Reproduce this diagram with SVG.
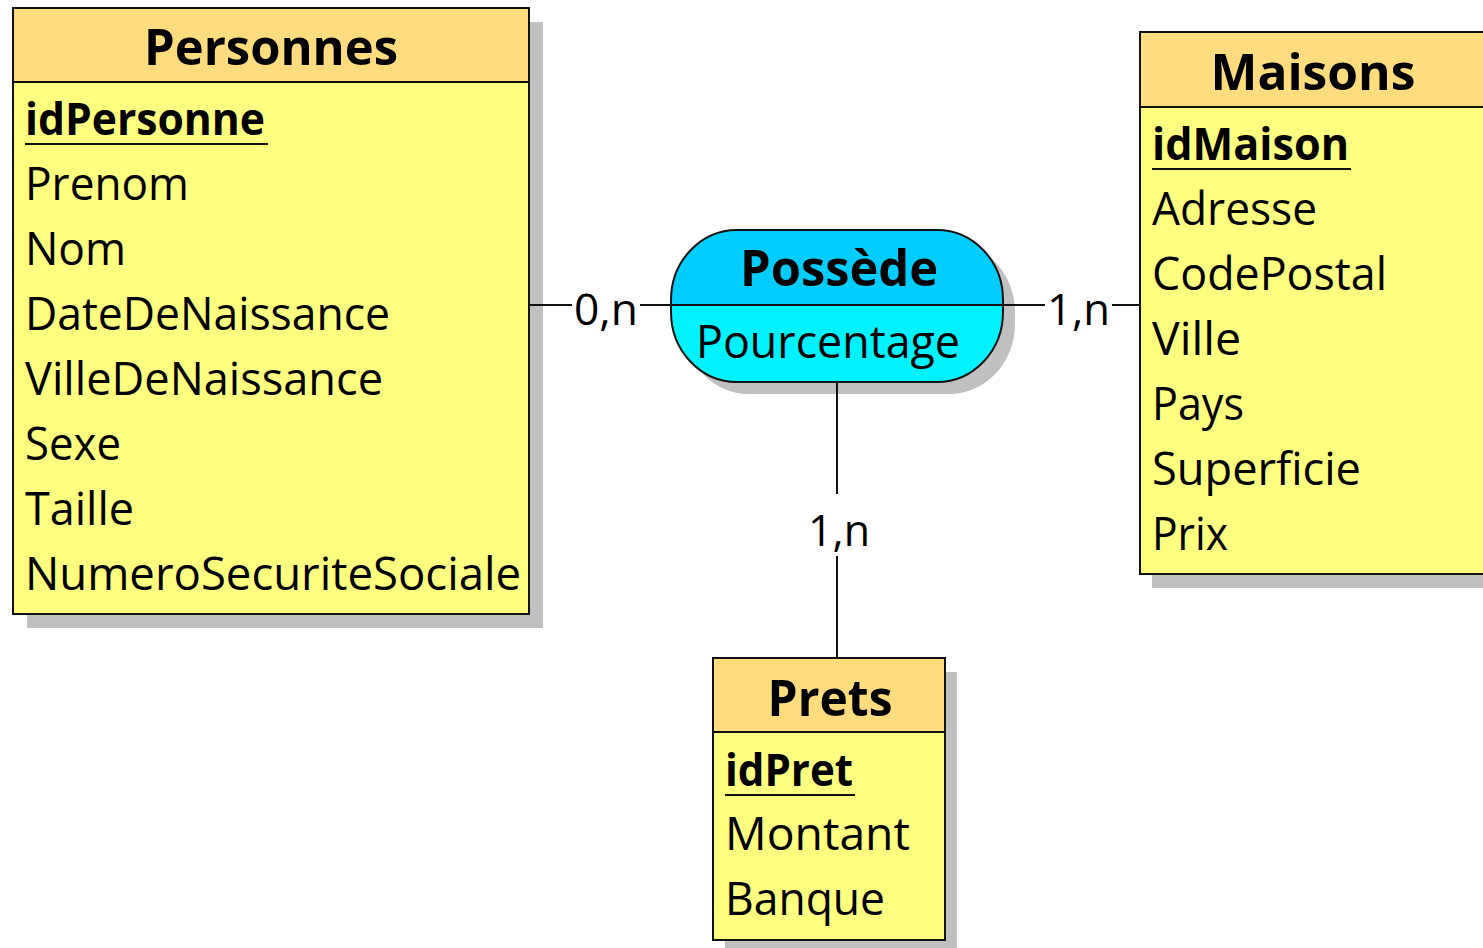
<svg xmlns="http://www.w3.org/2000/svg" width="1483" height="948" viewBox="0 0 1483 948">
  <style>
    .shadow { fill: #c0c0c0; }
    .head { fill: #ffdc7e; stroke: #111; stroke-width: 2; }
    .body { fill: #ffff80; stroke: #111; stroke-width: 2; }
    .title { font-family: "Open Sans", "Liberation Sans", sans-serif; font-weight: bold; font-size: 50px; fill: #000; text-anchor: middle; }
    .attr { font-family: "Open Sans", "Liberation Sans", sans-serif; font-size: 45px; fill: #000; }
    .key { font-family: "Open Sans", "Liberation Sans", sans-serif; font-size: 45px; font-weight: bold; fill: #000; }
    .card { font-family: "Open Sans", "Liberation Sans", sans-serif; font-size: 43px; fill: #000; }
    .ul { stroke: #111; stroke-width: 2; }
    .link { stroke: #111; stroke-width: 2; fill: none; }
  </style>

  <!-- entity: Personnes -->
  <g id="personnes">
    <rect class="shadow" x="27" y="22" width="516" height="606"/>
    <rect class="body" x="13" y="82" width="516" height="532"/>
    <rect class="head" x="13" y="8" width="516" height="74"/>
    <text class="title" x="271" y="65" textLength="254" lengthAdjust="spacingAndGlyphs">Personnes</text>
    <text class="key" x="25" y="135" textLength="240" lengthAdjust="spacingAndGlyphs">idPersonne</text>
    <line class="ul" x1="25" y1="144" x2="268" y2="144"/>
    <text class="attr" x="25" y="200" textLength="164" lengthAdjust="spacingAndGlyphs">Prenom</text>
    <text class="attr" x="25" y="265" textLength="101" lengthAdjust="spacingAndGlyphs">Nom</text>
    <text class="attr" x="25" y="330" textLength="365" lengthAdjust="spacingAndGlyphs">DateDeNaissance</text>
    <text class="attr" x="25" y="395" textLength="358" lengthAdjust="spacingAndGlyphs">VilleDeNaissance</text>
    <text class="attr" x="25" y="460" textLength="96" lengthAdjust="spacingAndGlyphs">Sexe</text>
    <text class="attr" x="25" y="525" textLength="109" lengthAdjust="spacingAndGlyphs">Taille</text>
    <text class="attr" x="25" y="590" textLength="496" lengthAdjust="spacingAndGlyphs">NumeroSecuriteSociale</text>
  </g>

  <!-- association: Possède -->
  <g id="possede">
    <rect class="shadow" x="683" y="242" width="332" height="152" rx="66" ry="70"/>
    <clipPath id="pill">
      <rect x="671" y="230" width="332" height="152" rx="66" ry="70"/>
    </clipPath>
    <g clip-path="url(#pill)">
      <rect x="671" y="230" width="332" height="75" fill="#00cdfd"/>
      <rect x="671" y="305" width="332" height="77" fill="#00f2ff"/>
    </g>
    <rect x="671" y="230" width="332" height="152" rx="66" ry="70" fill="none" stroke="#111" stroke-width="2"/>
    <line class="ul" x1="671" y1="305" x2="1003" y2="305"/>
    <text class="title" x="839" y="286" textLength="198" lengthAdjust="spacingAndGlyphs">Possède</text>
    <text class="attr" x="696" y="358" textLength="264" lengthAdjust="spacingAndGlyphs">Pourcentage</text>
  </g>

  <!-- entity: Maisons -->
  <g id="maisons">
    <rect class="shadow" x="1152" y="46" width="360" height="542"/>
    <rect class="body" x="1140" y="107" width="360" height="467"/>
    <rect class="head" x="1140" y="32" width="360" height="75"/>
    <text class="title" x="1313" y="90" textLength="205" lengthAdjust="spacingAndGlyphs">Maisons</text>
    <text class="key" x="1152" y="160" textLength="197" lengthAdjust="spacingAndGlyphs">idMaison</text>
    <line class="ul" x1="1152" y1="169" x2="1351" y2="169"/>
    <text class="attr" x="1152" y="225" textLength="165" lengthAdjust="spacingAndGlyphs">Adresse</text>
    <text class="attr" x="1152" y="290" textLength="235" lengthAdjust="spacingAndGlyphs">CodePostal</text>
    <text class="attr" x="1152" y="355" textLength="89" lengthAdjust="spacingAndGlyphs">Ville</text>
    <text class="attr" x="1152" y="420" textLength="92" lengthAdjust="spacingAndGlyphs">Pays</text>
    <text class="attr" x="1152" y="485" textLength="209" lengthAdjust="spacingAndGlyphs">Superficie</text>
    <text class="attr" x="1152" y="550" textLength="76" lengthAdjust="spacingAndGlyphs">Prix</text>
  </g>

  <!-- entity: Prets -->
  <g id="prets">
    <rect class="shadow" x="725" y="672" width="232" height="282"/>
    <rect class="body" x="713" y="732" width="232" height="208"/>
    <rect class="head" x="713" y="658" width="232" height="74"/>
    <text class="title" x="830" y="716" textLength="125" lengthAdjust="spacingAndGlyphs">Prets</text>
    <text class="key" x="725" y="786" textLength="128" lengthAdjust="spacingAndGlyphs">idPret</text>
    <line class="ul" x1="725" y1="795" x2="855" y2="795"/>
    <text class="attr" x="725" y="850" textLength="185" lengthAdjust="spacingAndGlyphs">Montant</text>
    <text class="attr" x="725" y="915" textLength="160" lengthAdjust="spacingAndGlyphs">Banque</text>
  </g>

  <!-- connectors with cardinalities, drawn over the drop shadows -->
  <g id="connectors">
    <line class="link" x1="530" y1="305" x2="572" y2="305"/>
    <line class="link" x1="640" y1="305" x2="672" y2="305"/>
    <text class="card" x="574" y="325" textLength="64" lengthAdjust="spacingAndGlyphs">0,n</text>
    <line class="link" x1="1003" y1="305" x2="1045" y2="305"/>
    <line class="link" x1="1112" y1="305" x2="1140" y2="305"/>
    <text class="card" x="1047" y="325" textLength="63" lengthAdjust="spacingAndGlyphs">1,n</text>
    <line class="link" x1="837" y1="383" x2="837" y2="494"/>
    <line class="link" x1="837" y1="556" x2="837" y2="657"/>
    <text class="card" x="808" y="546" textLength="62" lengthAdjust="spacingAndGlyphs">1,n</text>
  </g>
</svg>
